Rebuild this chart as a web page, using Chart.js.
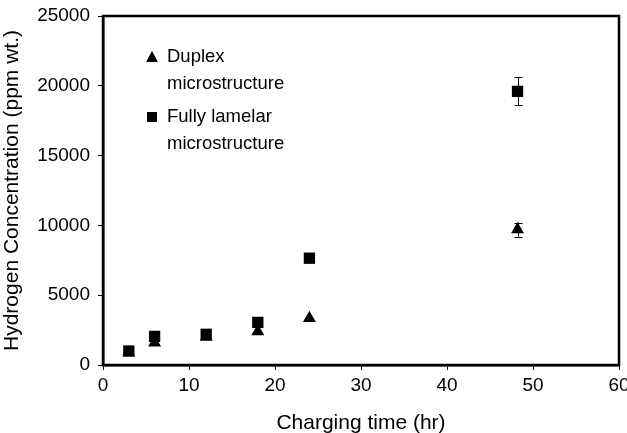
<!DOCTYPE html>
<html><head><meta charset="utf-8">
<script src="https://cdn.jsdelivr.net/npm/chart.js@4/dist/chart.umd.min.js"></script>
<style>html,body{margin:0;padding:0;background:#fff}#w{width:627px;height:433px}</style>
</head><body><div id="w"><canvas id="c" width="627" height="433"></canvas></div>
<script>
const duplexTime = [3, 6, 12, 18, 24, 48.2];
const duplexH2 = [900, 1600, 2000, 2400, 3350, 9700];
const duplexErr = [0, 0, 0, 0, 0, 500];
const lamelarTime = [3, 6, 12, 18, 24, 48.2];
const lamelarH2 = [1000, 2050, 2200, 3050, 7650, 19600];
const lamelarErr = [0, 0, 0, 0, 0, 1000];
const seriesNames = [['Duplex', 'microstructure'], ['Fully lamelar', 'microstructure']];
const xTicks = [0, 10, 20, 30, 40, 50, 60];
const yTicks = [0, 5000, 10000, 15000, 20000, 25000];
const FONT = 'Liberation Sans, Arial, sans-serif';

const errPlugin = {
  id: 'errbars',
  afterDatasetsDraw(chart) {
    const ctx = chart.ctx, xs = chart.scales.x, ys = chart.scales.y;
    ctx.save(); ctx.strokeStyle = '#000'; ctx.lineWidth = 1;
    chart.data.datasets.forEach(ds => {
      ds.data.forEach((p, i) => {
        const e = ds.errors[i]; if (!e) return;
        const x = Math.round(xs.getPixelForValue(p.x)) + 0.5;
        const y1 = ys.getPixelForValue(p.y - e), y2 = ys.getPixelForValue(p.y + e);
        ctx.beginPath();
        ctx.moveTo(x, y1); ctx.lineTo(x, y2);
        ctx.moveTo(x - 4, Math.round(y1) + 0.5); ctx.lineTo(x + 4, Math.round(y1) + 0.5);
        ctx.moveTo(x - 4, Math.round(y2) + 0.5); ctx.lineTo(x + 4, Math.round(y2) + 0.5);
        ctx.stroke();
      });
    });
    ctx.restore();
  }
};
const framePlugin = {
  id: 'frame',
  afterDraw(chart) {
    const a = chart.chartArea, ctx = chart.ctx;
    ctx.save(); ctx.strokeStyle = '#000'; ctx.lineWidth = 2.5;
    ctx.strokeRect(a.left, a.top, a.right - a.left, a.bottom - a.top);
    ctx.restore();
  }
};
const legendPlugin = {
  id: 'customLegend',
  afterDraw(chart) {
    const ctx = chart.ctx, a = chart.chartArea;
    ctx.save();
    ctx.fillStyle = '#000';
    ctx.font = '18.5px ' + FONT;
    ctx.textBaseline = 'middle';
    const mx = a.left + 49, tx = a.left + 64;
    const rows = [a.top + 41, a.top + 101];
    chart.data.datasets.forEach((ds, i) => {
      const y = rows[i];
      ctx.beginPath();
      if (ds.pointStyle === 'triangle') {
        ctx.moveTo(mx, y - 6); ctx.lineTo(mx + 6, y + 5); ctx.lineTo(mx - 6, y + 5); ctx.closePath();
      } else {
        ctx.rect(mx - 5, y - 5, 10, 10);
      }
      ctx.fill();
      seriesNames[i].forEach((t, j) => ctx.fillText(t, tx, y + j * 27));
    });
    ctx.restore();
  }
};

new Chart(document.getElementById('c'), {
  type: 'scatter',
  data: {
    datasets: [
      { label: seriesNames[0].join(' '), data: duplexTime.map((t, i) => ({x: t, y: duplexH2[i]})), errors: duplexErr,
        pointStyle: 'triangle', pointRadius: 7.5, backgroundColor: '#000', borderColor: '#000', borderWidth: 0 },
      { label: seriesNames[1].join(' '), data: lamelarTime.map((t, i) => ({x: t, y: lamelarH2[i]})), errors: lamelarErr,
        pointStyle: 'rect', pointRadius: 8, backgroundColor: '#000', borderColor: '#000', borderWidth: 0 }
    ]
  },
  options: {
    responsive: false, animation: false, devicePixelRatio: 1,
    layout: { padding: { top: 16, right: 3, left: 0, bottom: 0 } },
    plugins: { legend: { display: false }, tooltip: { enabled: false } },
    scales: {
      x: {
        type: 'linear', min: 0, max: 60,
        afterBuildTicks(s) { s.ticks = xTicks.map(v => ({value: v})); },
        ticks: { color: '#000', font: { family: FONT, size: 19 }, padding: 4 },
        grid: { drawOnChartArea: false, drawTicks: true, tickLength: 5, color: '#000' },
        border: { display: true, color: '#000', width: 2.5 },
        title: { display: true, text: 'Charging time (hr)', color: '#000', font: { family: FONT, size: 21 }, padding: { top: 11, bottom: -3 } },
        afterFit(s) { s.height = 433 - 365; s.paddingLeft = 0; s.paddingRight = 0; }
      },
      y: {
        type: 'linear', min: 0, max: 25000,
        afterBuildTicks(s) { s.ticks = yTicks.map(v => ({value: v})); },
        ticks: { color: '#000', font: { family: FONT, size: 19 }, padding: 8, callback: v => String(v) },
        grid: { drawOnChartArea: false, drawTicks: true, tickLength: 5, color: '#000' },
        border: { display: true, color: '#000', width: 2.5 },
        title: { display: true, text: 'Hydrogen Concentration (ppm wt.)', color: '#000', font: { family: FONT, size: 21 }, padding: { top: 0, bottom: 4 } },
        afterFit(s) { s.width = 103; s.paddingTop = 0; s.paddingBottom = 0; }
      }
    }
  },
  plugins: [errPlugin, framePlugin, legendPlugin]
});
</script></body></html>
